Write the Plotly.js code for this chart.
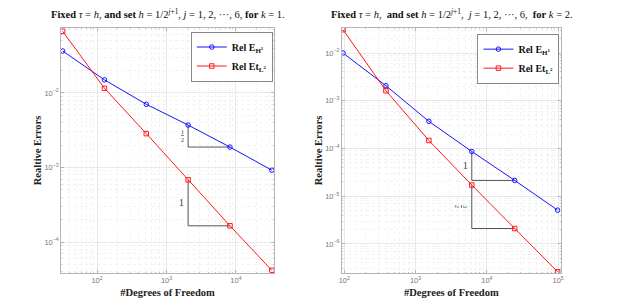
<!DOCTYPE html>
<html>
<head>
<meta charset="utf-8">
<script src="https://cdn.plot.ly/plotly-3.0.1.min.js"></script>
<style>html,body{margin:0;padding:0;background:#fff;}#chart{width:630px;height:306px;}</style>
</head>
<body>
<div id="chart"></div>
<script>
// ---- data ----
const dofK1 = [32, 128, 512, 2048, 8192, 32768];
const relH1K1 = [0.0366, 0.0150, 0.00705, 0.00371, 0.00188, 0.00092];
const relL2K1 = [0.0673, 0.01156, 0.00285, 0.000683, 0.000165, 4.17e-5];

const dofK2 = [96, 384, 1536, 6144, 24576, 98304];
const relH1K2 = [0.0100, 0.00206, 3.70e-4, 8.65e-5, 2.14e-5, 5.1e-6];
const relL2K2 = [0.0308, 0.00162, 1.47e-4, 1.71e-5, 2.1e-6, 2.6e-7];

const seriesNames = ['<b>Rel E<sub>H<sup>1</sup></sub></b>', '<b>Rel Et<sub>L<sup>2</sup></sub></b>'];
const titleK1 = '<b>Fixed</b> <i>τ</i> = <i>h</i>, <b>and set</b> <i>h</i> = 1/2<sup><i>j</i>+1</sup>, <i>j</i> = 1, 2, ···, 6, <b>for</b> <i>k</i> = 1.';
const titleK2 = '<b>Fixed</b> <i>τ</i> = <i>h</i>,  <b>and set</b> <i>h</i> = 1/2<sup><i>j</i>+1</sup>,  <i>j</i> = 1, 2, ···, 6,  <b>for</b> <i>k</i> = 2.';
const slopeLabels = {k1H1: '<u>1</u><br>2', k1L2: '1', k2H1: '1', k2L2: '<u>3</u><br>2'};

// ---- style ----
const BLUE = '#1414ff', RED = '#ff1a1a', TRI = '#555555';
const SERIF = 'Liberation Serif, DejaVu Serif, serif';

function series(x, y, name, color, symbol, xa, ya, leg) {
  return {x: x, y: y, name: name, type: 'scatter', mode: 'lines+markers',
    xaxis: xa, yaxis: ya, legend: leg,
    line: {color: color, width: 1},
    marker: {symbol: symbol, size: 4.5, color: color, line: {color: color, width: 1}}};
}
function tri(x, y, i, xa, ya) {
  return {x: [x[i], x[i], x[i+1]], y: [y[i], y[i+1], y[i+1]], type: 'scatter', mode: 'lines',
    xaxis: xa, yaxis: ya, showlegend: false, hoverinfo: 'skip',
    line: {color: TRI, width: 1}};
}
const traces = [
  tri(dofK1, relH1K1, 3, 'x', 'y'),
  tri(dofK1, relL2K1, 3, 'x', 'y'),
  tri(dofK2, relH1K2, 3, 'x2', 'y2'),
  tri(dofK2, relL2K2, 3, 'x2', 'y2'),
  series(dofK1, relH1K1, seriesNames[0], BLUE, 'circle-open', 'x', 'y', 'legend'),
  series(dofK1, relL2K1, seriesNames[1], RED, 'square-open', 'x', 'y', 'legend'),
  series(dofK2, relH1K2, seriesNames[0], BLUE, 'circle-open', 'x2', 'y2', 'legend2'),
  series(dofK2, relL2K2, seriesNames[1], RED, 'square-open', 'x2', 'y2', 'legend2'),
];

function axis(dom, range, anchor) {
  return {type: 'log', domain: dom, range: range, anchor: anchor, dtick: 1,
    exponentformat: 'power', showexponent: 'all',
    showline: true, mirror: 'ticks', linecolor: '#b5b5b5', linewidth: 1,
    ticks: 'inside', ticklen: 3, tickcolor: '#b5b5b5',
    tickfont: {family: 'Liberation Sans, Arial', size: 6, color: '#777'},
    showgrid: true, gridcolor: '#e0e0e0', gridwidth: 0.7, zeroline: false,
    minor: {showgrid: true, gridcolor: '#ececec', griddash: 'dot', ticks: 'inside', ticklen: 1.5, tickcolor: '#c8c8c8'}};
}
const titleFont = {family: SERIF, size: 10.5, color: '#111'};
const labFont = {family: SERIF, size: 10.5, color: '#222'};

const xa1 = axis([0.0968, 0.435], [Math.log10(30.3), Math.log10(35300)], 'y');
xa1.title = {text: '<b>#Degrees of Freedom</b>', font: labFont, standoff: 4};
const ya1 = axis([0.1078, 0.9085], [-4.416, -1.128], 'x');
ya1.title = {text: '<b>Realtive Errors</b>', font: labFont, standoff: 0};
const xa2 = axis([0.5424, 0.8905], [1.964, 5.04], 'y2');
xa2.title = {text: '<b>#Degrees of Freedom</b>', font: labFont, standoff: 4};
const ya2 = axis([0.1078, 0.9085], [-6.61, -1.476], 'x2');
ya2.title = {text: '<b>Realtive Errors</b>', font: labFont, standoff: 0};

function mid(y, i) { return (Math.log10(y[i]) + Math.log10(y[i+1])) / 2; }
const annFont = {family: SERIF, size: 9.5, color: '#333'};
const annotations = [
  {text: titleK1, xref: 'paper', yref: 'paper', x: 0.266, y: 0.955, xanchor: 'center', yanchor: 'middle', showarrow: false, font: titleFont},
  {text: titleK2, xref: 'paper', yref: 'paper', x: 0.717, y: 0.955, xanchor: 'center', yanchor: 'middle', showarrow: false, font: titleFont},
  {text: slopeLabels.k1H1, xref: 'x', yref: 'y', x: Math.log10(dofK1[3]), y: mid(relH1K1, 3), xanchor: 'right', xshift: -2, showarrow: false, font: {family: SERIF, size: 6, color: '#333'}},
  {text: slopeLabels.k1L2, xref: 'x', yref: 'y', x: Math.log10(dofK1[3]), y: mid(relL2K1, 3), xanchor: 'right', xshift: -2, showarrow: false, font: annFont},
  {text: slopeLabels.k2H1, xref: 'x2', yref: 'y2', x: Math.log10(dofK2[3]), y: mid(relH1K2, 3), xanchor: 'right', xshift: -2, showarrow: false, font: annFont},
  {text: slopeLabels.k2L2, xref: 'x2', yref: 'y2', x: Math.log10(dofK2[3]), y: mid(relL2K2, 3), xanchor: 'right', xshift: -2, textangle: 90, showarrow: false, font: {family: SERIF, size: 6, color: '#333'}},
];

const legendBase = {bgcolor: '#fff', bordercolor: '#888', borderwidth: 1,
  font: {family: SERIF, size: 10, color: '#111'}, xanchor: 'right', yanchor: 'top',
  tracegroupgap: 2, itemwidth: 30};
const layout = {
  width: 630, height: 306, margin: {l: 0, r: 0, t: 0, b: 0},
  paper_bgcolor: '#fff', plot_bgcolor: '#fff', showlegend: true,
  xaxis: xa1, yaxis: ya1, xaxis2: xa2, yaxis2: ya2,
  legend: Object.assign({x: 0.433, y: 0.897, xref: 'paper', yref: 'paper'}, legendBase),
  legend2: Object.assign({x: 0.888, y: 0.89, xref: 'paper', yref: 'paper'}, legendBase),
  annotations: annotations
};
Plotly.newPlot('chart', traces, layout, {staticPlot: true, displayModeBar: false});
</script>
</body>
</html>
